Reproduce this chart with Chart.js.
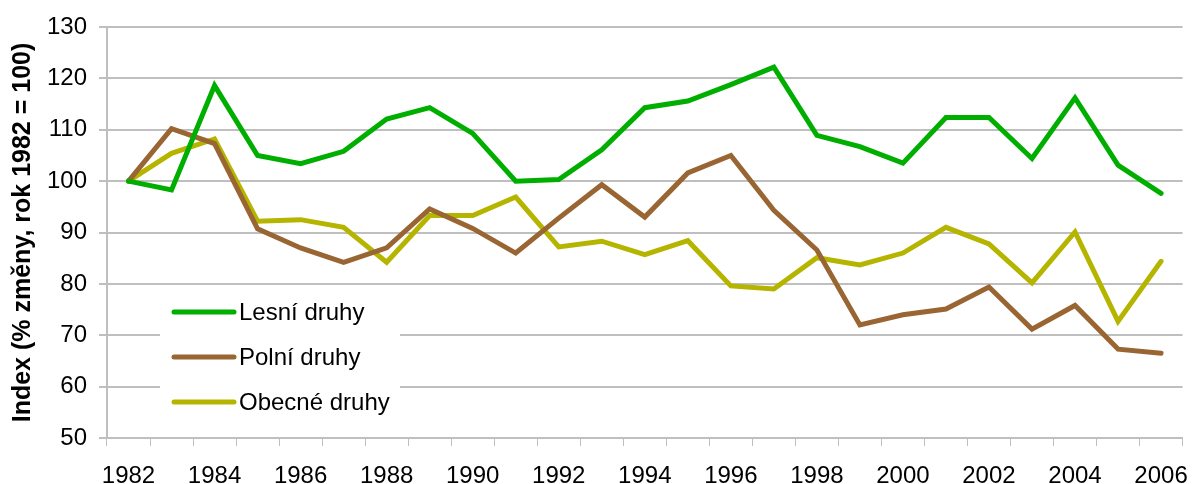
<!DOCTYPE html>
<html>
<head>
<meta charset="utf-8">
<script src="https://cdn.jsdelivr.net/npm/chart.js@4.4.1/dist/chart.umd.min.js"></script>
<style>
  html, body { margin: 0; padding: 0; background: #ffffff; }
  #wrap { width: 1204px; height: 484px; position: relative; }
</style>
</head>
<body>
<div id="wrap"><canvas id="c" width="1204" height="484"></canvas></div>
<script>
const years = [1982,1983,1984,1985,1986,1987,1988,1989,1990,1991,1992,1993,1994,1995,1996,1997,1998,1999,2000,2001,2002,2003,2004,2005,2006];
const lesniDruhy = [100,98.3,118.6,105.0,103.4,105.8,112.1,114.3,109.3,100.0,100.3,106.1,114.3,115.6,118.8,122.2,108.9,106.7,103.5,112.4,112.4,104.4,116.2,103.1,97.6];
const polniDruhy = [100,110.2,107.3,90.7,87.0,84.2,87.0,94.6,90.8,86.0,92.8,99.3,93.0,101.6,105.0,94.3,86.6,72.0,74.0,75.1,79.4,71.2,75.8,67.3,66.5];
const obecneDruhy = [100,105.4,108.2,92.2,92.5,91.0,84.2,93.3,93.3,96.9,87.2,88.3,85.7,88.4,79.6,79.0,85.1,83.7,86.0,91.0,87.8,80.2,90.1,72.7,84.4];
const seriesNames = ['Lesní druhy','Polní druhy','Obecné druhy'];
const seriesColors = ['#00AE00','#996633','#B5B500'];
const yTitle = 'Index (% změny, rok 1982 = 100)';
const yMin = 50, yMax = 130, yStep = 10;

const FONT = 'Liberation Sans, Arial, sans-serif';

const insideLegend = {
  id: 'insideLegend',
  afterDraw(chart) {
    const ctx = chart.ctx;
    const bx = 160, by = 285, bw = 240, bh = 152;
    ctx.save();
    ctx.fillStyle = '#ffffff';
    ctx.fillRect(bx, by, bw, bh - 1);
    ctx.font = '24px ' + FONT;
    ctx.textBaseline = 'middle';
    ctx.textAlign = 'left';
    chart.data.datasets.forEach((ds, i) => {
      const y = by + 27 + i * 45;
      ctx.strokeStyle = ds.borderColor;
      ctx.lineWidth = 5;
      ctx.lineCap = 'round';
      ctx.beginPath();
      ctx.moveTo(bx + 14, y);
      ctx.lineTo(bx + 74, y);
      ctx.stroke();
      ctx.fillStyle = '#000000';
      ctx.fillText(ds.label, bx + 79, y + 1);
    });
    ctx.restore();
  }
};

new Chart(document.getElementById('c'), {
  type: 'line',
  data: {
    labels: years.map(String),
    datasets: [lesniDruhy, polniDruhy, obecneDruhy].map((d, i) => ({
      label: seriesNames[i],
      data: d,
      borderColor: seriesColors[i],
      backgroundColor: seriesColors[i],
      borderWidth: 5,
      pointRadius: 0,
      tension: 0,
      borderJoinStyle: 'miter',
      borderCapStyle: 'round'
    }))
  },
  options: {
    responsive: false,
    animation: false,
    devicePixelRatio: 1,
    layout: { padding: { top: 27, right: 12, bottom: 0, left: 0 } },
    plugins: { legend: { display: false }, tooltip: { enabled: false }, title: { display: false } },
    scales: {
      x: {
        type: 'category',
        offset: true,
        grid: { offset: true, drawOnChartArea: false, drawTicks: true, tickLength: 8, color: '#BFBFBF', lineWidth: 1 },
        border: { color: '#BFBFBF', width: 2 },
        ticks: {
          autoSkip: false, maxRotation: 0, minRotation: 0, color: '#000000', padding: 16,
          font: { family: FONT, size: 24 },
          callback: function(v, i) { return i % 2 === 0 ? this.getLabelForValue(v) : ''; }
        },
        afterFit(scale) { scale.height = 46; }
      },
      y: {
        min: yMin, max: yMax,
        grid: { color: '#BFBFBF', lineWidth: 2, drawTicks: true, tickLength: 8 },
        border: { color: '#BFBFBF', width: 2 },
        ticks: { stepSize: yStep, color: '#000000', padding: 12, font: { family: FONT, size: 24 } },
        title: { display: true, text: yTitle, color: '#000000', font: { family: FONT, size: 25, weight: 'bold' }, padding: { top: 8, bottom: 0 } },
        afterFit(scale) { scale.width = 107; }
      }
    }
  },
  plugins: [insideLegend]
});
</script>
</body>
</html>
